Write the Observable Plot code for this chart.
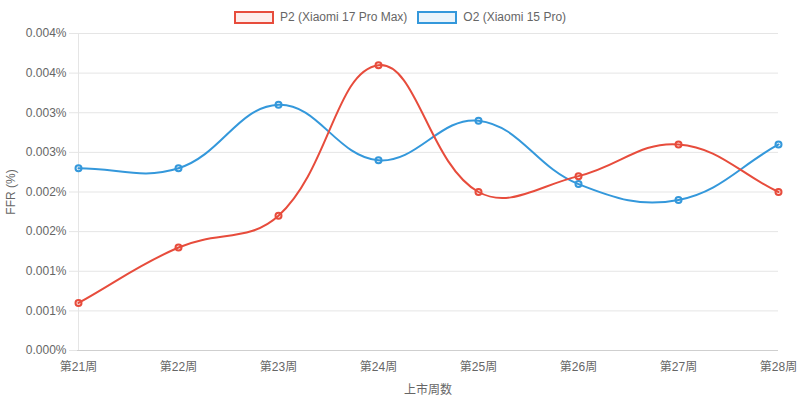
<!DOCTYPE html>
<html>
<head>
<meta charset="utf-8">
<script src="https://cdn.jsdelivr.net/npm/d3@7"></script>
<script src="https://cdn.jsdelivr.net/npm/@observablehq/plot@0.6"></script>
<style>
  html, body { margin: 0; padding: 0; background: #fff; }
  #wrap { position: relative; width: 800px; height: 401px; font-family: "Liberation Sans", Arial, "Noto Sans CJK SC", sans-serif; }
  #legend { position: absolute; top: 10px; left: 0; width: 800px; display: flex; justify-content: center; gap: 10px; font-size: 12px; color: #666; line-height: 14px; }
  .item { display: flex; align-items: center; }
  .box { width: 36px; height: 9px; border: 2px solid; margin-right: 6px; }
</style>
</head>
<body>
<div id="wrap">
  <div id="legend"></div>
</div>
<script>
const weeks = ["第21周", "第22周", "第23周", "第24周", "第25周", "第26周", "第27周", "第28周"];
const seriesNames = ["P2 (Xiaomi 17 Pro Max)", "O2 (Xiaomi 15 Pro)"];
const seriesColors = ["#e74c3c", "#3498db"];
const seriesFills = ["rgba(231,76,60,0.1)", "rgba(52,152,219,0.1)"];
const p2Values = [0.0006, 0.0013, 0.0017, 0.0036, 0.0020, 0.0022, 0.0026, 0.0020];
const o2Values = [0.0023, 0.0023, 0.0031, 0.0024, 0.0029, 0.0021, 0.0019, 0.0026];
const yTicks = [0, 0.0005, 0.001, 0.0015, 0.002, 0.0025, 0.003, 0.0035, 0.004];
const xTitle = "上市周数";
const yTitle = "FFR (%)";

// draw order: O2 under P2
const data = [
  ...weeks.map((w, i) => ({week: w, value: o2Values[i], series: seriesNames[1]})),
  ...weeks.map((w, i) => ({week: w, value: p2Values[i], series: seriesNames[0]}))
];

// Chart.js-style spline (tension 0.4)
function chartjsCurve(context) {
  let pts = [];
  return {
    areaStart() {}, areaEnd() {},
    lineStart() { pts = []; },
    point(x, y) { pts.push([+x, +y]); },
    lineEnd() {
      const n = pts.length;
      if (!n) return;
      const t = 0.4;
      const cps = pts.map((p, i) => {
        const prev = pts[Math.max(0, i - 1)], next = pts[Math.min(n - 1, i + 1)];
        const d01 = Math.hypot(p[0] - prev[0], p[1] - prev[1]);
        const d12 = Math.hypot(next[0] - p[0], next[1] - p[1]);
        let s01 = d01 / (d01 + d12), s12 = d12 / (d01 + d12);
        if (isNaN(s01)) s01 = 0;
        if (isNaN(s12)) s12 = 0;
        const fa = t * s01, fb = t * s12;
        return {
          prev: [p[0] - fa * (next[0] - prev[0]), p[1] - fa * (next[1] - prev[1])],
          next: [p[0] + fb * (next[0] - prev[0]), p[1] + fb * (next[1] - prev[1])]
        };
      });
      context.moveTo(pts[0][0], pts[0][1]);
      for (let i = 1; i < n; i++) {
        const a = cps[i - 1].next, b = cps[i].prev;
        context.bezierCurveTo(a[0], a[1], b[0], b[1], pts[i][0], pts[i][1]);
      }
    }
  };
}

const legend = document.getElementById("legend");
seriesNames.forEach((name, i) => {
  const item = document.createElement("div");
  item.className = "item";
  const box = document.createElement("div");
  box.className = "box";
  box.style.borderColor = seriesColors[i];
  box.style.background = seriesFills[i];
  const label = document.createElement("span");
  label.textContent = name;
  item.appendChild(box);
  item.appendChild(label);
  legend.appendChild(item);
});

const chart = Plot.plot({
  width: 800,
  height: 401,
  marginTop: 33,
  marginBottom: 51,
  marginLeft: 77,
  marginRight: 22,
  style: {fontFamily: '"Liberation Sans", Arial, "Noto Sans CJK SC", sans-serif', fontSize: "12px", color: "#666", background: "#fff"},
  x: {type: "point", domain: weeks, padding: 0},
  y: {domain: [0, 0.004]},
  color: {domain: seriesNames, range: seriesColors},
  marks: [
    Plot.gridY(yTicks, {stroke: "#e5e5e5", strokeOpacity: 1}),
    Plot.ruleX([weeks[0]], {stroke: "#e5e5e5"}),
    Plot.ruleY([0], {stroke: "#cfcfcf"}),
    Plot.axisY(yTicks, {
      tickFormat: d => d.toFixed(3) + "%",
      tickSize: 8, tickPadding: 3,
      stroke: "#e5e5e5", strokeOpacity: 1, fill: "#666",
      label: yTitle, labelAnchor: "center", labelArrow: "none", labelOffset: 71
    }),
    Plot.axisX({
      tickSize: 0, tickPadding: 12, fill: "#666",
      label: xTitle, labelAnchor: "center", labelArrow: "none", labelOffset: 43
    }),
    Plot.line(data, {x: "week", y: "value", stroke: "series", z: "series", strokeWidth: 2, curve: chartjsCurve}),
    Plot.dot(data, {x: "week", y: "value", stroke: "series", fill: "series", fillOpacity: 0.1, r: 3, strokeWidth: 2})
  ]
});
document.getElementById("wrap").appendChild(chart);
</script>
</body>
</html>
